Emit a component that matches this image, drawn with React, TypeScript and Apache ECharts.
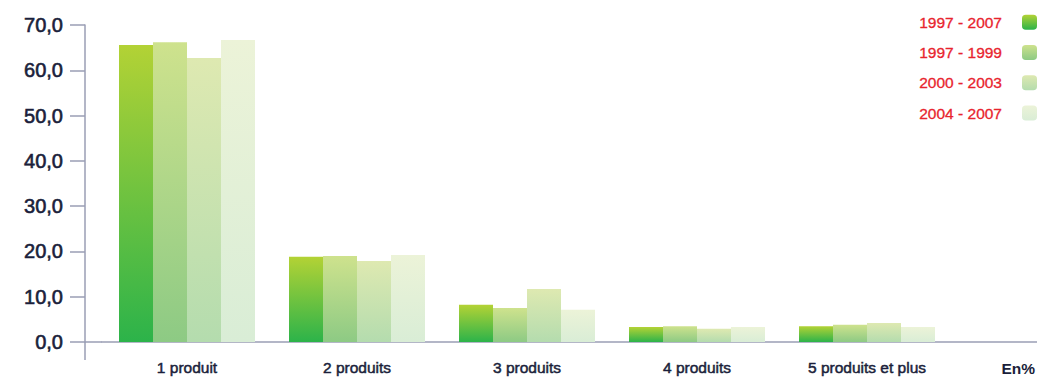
import React, { useEffect, useRef } from "react";
import * as echarts from "echarts";

const categories = ["1 produit", "2 produits", "3 produits", "4 produits", "5 produits et plus", ""];
const seriesNames = ["1997 - 2007", "1997 - 1999", "2000 - 2003", "2004 - 2007"];
const values1997_2007 = [65.6, 18.8, 8.2, 3.3, 3.5];
const values1997_1999 = [66.2, 19.0, 7.5, 3.5, 3.8];
const values2000_2003 = [62.7, 17.9, 11.7, 2.9, 4.2];
const values2004_2007 = [66.7, 19.2, 7.1, 3.3, 3.3];
const unitLabel = "En%";

const gradients = [
  ["#b3d235", "#2cb34a"],
  ["#cee28d", "#8dca84"],
  ["#dee9b1", "#b4dcae"],
  ["#ecf3d8", "#d9edd6"],
];

const grad = (top: string, bottom: string) =>
  new echarts.graphic.LinearGradient(0, 0, 0, 1, [
    { offset: 0, color: top },
    { offset: 1, color: bottom },
  ]);

export default function App() {
  const ref = useRef<HTMLDivElement>(null);
  useEffect(() => {
    if (!ref.current) return;
    const chart = echarts.init(ref.current, undefined, { renderer: "svg" });
    const axisColor = "#9a9eb4";
    const textDark = "#1b1f3b";
    const allValues = [values1997_2007, values1997_1999, values2000_2003, values2004_2007];
    chart.setOption({
      animation: false,
      grid: {
        left: 102,
        top: 25,
        height: 317,
        width: 1020,
        containLabel: false,
        outerBoundsMode: "none",
      },
      legend: {
        orient: "vertical",
        right: 0,
        top: 14,
        padding: 0,
        align: "right",
        itemWidth: 15,
        itemHeight: 15,
        itemGap: 14,
        selectedMode: false,
        data: seriesNames,
        textStyle: {
          color: "#e8242e",
          fontSize: 15.5,
          lineHeight: 16,
          fontFamily: "Liberation Sans",
          textBorderColor: "#e8242e",
          textBorderWidth: 0.3,
          padding: [0, 15, 0, 0],
        },
      },
      xAxis: {
        type: "category",
        data: categories,
        axisLine: { show: true, lineStyle: { color: axisColor, width: 1.5 } },
        axisTick: { show: false },
        axisLabel: {
          color: textDark,
          fontSize: 15.5,
          fontFamily: "Liberation Sans",
          textBorderColor: textDark,
          textBorderWidth: 0.5,
          margin: 17,
        },
      },
      yAxis: {
        type: "value",
        min: 0,
        max: 70,
        interval: 10,
        offset: 17,
        axisLine: { show: true, lineStyle: { color: axisColor, width: 1.5 } },
        axisTick: { show: true, length: 15, lineStyle: { color: axisColor, width: 1.5 } },
        splitLine: { show: false },
        axisLabel: {
          color: textDark,
          fontSize: 20,
          fontFamily: "Liberation Sans",
          textBorderColor: textDark,
          textBorderWidth: 0.6,
          margin: 22,
          formatter: (v: number) => v.toFixed(1).replace(".", ","),
        },
      },
      graphic: [
        {
          type: "line",
          shape: { x1: 85, y1: 342, x2: 102, y2: 342 },
          style: { stroke: axisColor, lineWidth: 1.5 },
        },
        {
          type: "line",
          shape: { x1: 85, y1: 342, x2: 85, y2: 360 },
          style: { stroke: axisColor, lineWidth: 1.5 },
        },
        {
          type: "text",
          right: 2,
          top: 360,
          style: {
            text: unitLabel,
            fill: textDark,
            font: "bold 15.5px 'Liberation Sans'",
          },
        },
      ],
      series: seriesNames.map((name, i) => ({
        name,
        type: "bar",
        data: allValues[i],
        barWidth: 34,
        barGap: "0%",
        itemStyle: { color: grad(gradients[i][0], gradients[i][1]) },
      })),
    });
    return () => chart.dispose();
  }, []);
  return (
    <div
      ref={ref}
      style={{ position: "absolute", left: 0, top: 0, width: 1037, height: 378 }}
    />
  );
}
